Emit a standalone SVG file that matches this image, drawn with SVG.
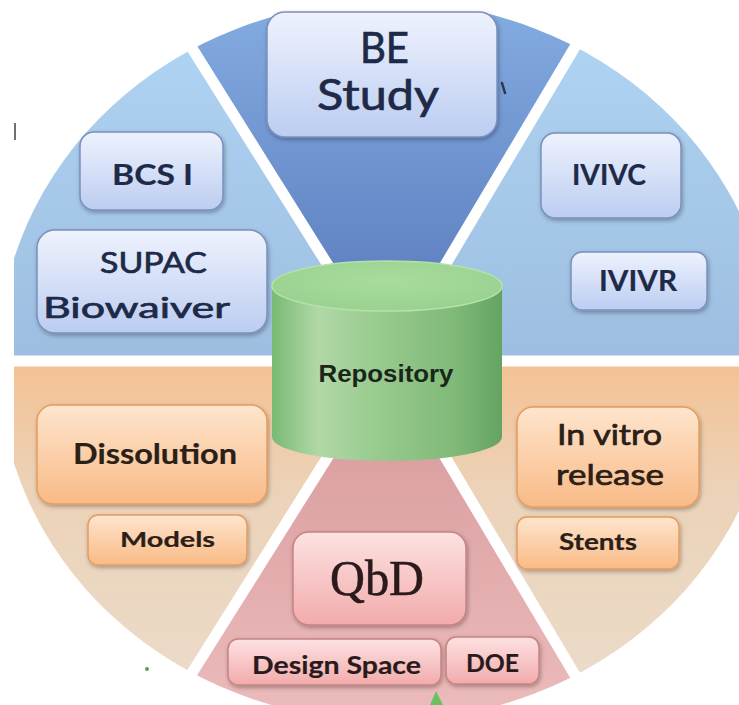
<svg xmlns="http://www.w3.org/2000/svg" width="739" height="705" viewBox="0 0 739 705">
  <defs>
    <clipPath id="frame"><rect x="14" y="12" width="725" height="693"/></clipPath>
    <clipPath id="disc"><ellipse cx="386" cy="361" rx="388" ry="360"/></clipPath>
    <linearGradient id="gTop" gradientUnits="userSpaceOnUse" x1="0" y1="12" x2="0" y2="300">
      <stop offset="0" stop-color="#82abe0"/><stop offset="1" stop-color="#5d7ebf"/>
    </linearGradient>
    <linearGradient id="gUpper" gradientUnits="userSpaceOnUse" x1="0" y1="40" x2="0" y2="355">
      <stop offset="0" stop-color="#afd3f2"/><stop offset="1" stop-color="#9dbee0"/>
    </linearGradient>
    <linearGradient id="gLower" gradientUnits="userSpaceOnUse" x1="0" y1="366" x2="0" y2="705">
      <stop offset="0" stop-color="#f4c294"/><stop offset="0.35" stop-color="#ecd2b7"/><stop offset="1" stop-color="#ebdccb"/>
    </linearGradient>
    <linearGradient id="gBottom" gradientUnits="userSpaceOnUse" x1="0" y1="366" x2="0" y2="705">
      <stop offset="0" stop-color="#d6979a"/><stop offset="1" stop-color="#ebbaba"/>
    </linearGradient>
    <linearGradient id="boxBlue" x1="0" y1="0" x2="0" y2="1">
      <stop offset="0" stop-color="#eef2fd"/><stop offset="1" stop-color="#bccdf1"/>
    </linearGradient>
    <linearGradient id="boxOrange" x1="0" y1="0" x2="0" y2="1">
      <stop offset="0" stop-color="#fee5cd"/><stop offset="1" stop-color="#f9ba86"/>
    </linearGradient>
    <linearGradient id="boxPink" x1="0" y1="0" x2="0" y2="1">
      <stop offset="0" stop-color="#fde2e2"/><stop offset="1" stop-color="#f2abab"/>
    </linearGradient>
    <linearGradient id="cylBody" x1="0" y1="0" x2="1" y2="0">
      <stop offset="0" stop-color="#78ba74"/><stop offset="0.2" stop-color="#b1d8a7"/>
      <stop offset="0.45" stop-color="#99cb8f"/><stop offset="0.8" stop-color="#7fb978"/>
      <stop offset="1" stop-color="#64a362"/>
    </linearGradient>
    <radialGradient id="cylTop" cx="0.5" cy="0.4" r="0.6">
      <stop offset="0" stop-color="#a8dc9d"/><stop offset="1" stop-color="#9ad190"/>
    </radialGradient>
    <filter id="shadow" x="-10%" y="-10%" width="125%" height="135%">
      <feDropShadow dx="1" dy="2" stdDeviation="2" flood-color="#000" flood-opacity="0.3"/>
    </filter>
    <style>
      .sep { stroke: #ffffff; stroke-width: 11; fill: none; }
      .bx { stroke-width: 1.5; filter: url(#shadow); }
      .blue { fill: url(#boxBlue); stroke: #7a90bd; }
      .orange { fill: url(#boxOrange); stroke: #e59c5e; }
      .pink { fill: url(#boxPink); stroke: #c88282; }
      .t { font-family: Lato, "Open Sans", "Liberation Sans", sans-serif; text-anchor: middle; }
      .b { font-weight: bold; }
      .tb { fill: #1e2a48; stroke: #1e2a48; stroke-width: 0.2; }
      .to { fill: #2a2018; stroke: #2a2018; stroke-width: 0.2; }
      .tp { fill: #2a1a1c; stroke: #2a1a1c; stroke-width: 0.2; }
      .t.m { stroke-width: 0.7; }
    </style>
  </defs>

  <rect width="739" height="705" fill="#ffffff"/>

  <!-- pie sectors -->
  <g id="pie" clip-path="url(#frame)">
    <g clip-path="url(#disc)">
      <polygon id="sector-top" points="388,361 -144,-489 880,-467" fill="url(#gTop)"/>
      <polygon id="sector-upper-left" points="388,361 -144,-489 -800,-489 -800,361" fill="url(#gUpper)"/>
      <polygon id="sector-upper-right" points="388,361 880,-467 1500,-467 1500,361" fill="url(#gUpper)"/>
      <polygon id="sector-lower-left" points="388,361 -800,361 -800,1208 -144,1208" fill="url(#gLower)"/>
      <polygon id="sector-lower-right" points="388,361 1500,361 1500,1208 893,1208" fill="url(#gLower)"/>
      <polygon id="sector-bottom" points="388,361 -144,1208 893,1208" fill="url(#gBottom)"/>
    </g>
  </g>

  <!-- white spokes between sectors -->
  <g id="connectors">
    <line class="sep" x1="0" y1="361" x2="739" y2="361"/>
    <line class="sep" x1="388" y1="361" x2="170" y2="13"/>
    <line class="sep" x1="388" y1="361" x2="591" y2="20"/>
    <line class="sep" x1="388" y1="361" x2="170" y2="708"/>
    <line class="sep" x1="388" y1="361" x2="594" y2="707"/>
  </g>

  <!-- small stray marks -->
  <g id="marks">
    <path d="M15,123 L15,140" stroke="#6b6f78" stroke-width="2"/>
    <path d="M502,83 L505,93" stroke="#2d3550" stroke-width="2.5" stroke-linecap="round"/>
    <circle cx="147" cy="669" r="2" fill="#5f9d55"/>
    <polygon points="436,691 430,705 443,705" fill="#6cc060"/>
  </g>

  <g id="be-study">
    <rect class="bx blue" x="267" y="12" width="230" height="125" rx="18"/>
    <text class="t tb m" x="384.5" y="63" font-size="42" textLength="49" lengthAdjust="spacingAndGlyphs">BE</text>
    <text class="t tb m" x="378" y="110" font-size="42" textLength="122" lengthAdjust="spacingAndGlyphs">Study</text>
  </g>

  <g id="bcs-i">
    <rect class="bx blue" x="80" y="132" width="143" height="78" rx="14"/>
    <text class="t b tb" x="152.5" y="185" font-size="28" textLength="81" lengthAdjust="spacingAndGlyphs">BCS I</text>
  </g>

  <g id="supac-biowaiver">
    <rect class="bx blue" x="37" y="230" width="230" height="103" rx="18"/>
    <text class="t tb m" x="153.5" y="273" font-size="29" textLength="107" lengthAdjust="spacingAndGlyphs">SUPAC</text>
    <text class="t tb m" x="136.5" y="318" font-size="29" textLength="187" lengthAdjust="spacingAndGlyphs">Biowaiver</text>
  </g>

  <g id="ivivc">
    <rect class="bx blue" x="541" y="133" width="140" height="85" rx="14"/>
    <text class="t b tb" x="609" y="185" font-size="28" textLength="74" lengthAdjust="spacingAndGlyphs">IVIVC</text>
  </g>

  <g id="ivivr">
    <rect class="bx blue" x="571" y="252" width="136" height="58" rx="11"/>
    <text class="t b tb" x="638" y="291" font-size="28" textLength="78" lengthAdjust="spacingAndGlyphs">IVIVR</text>
  </g>

  <g id="dissolution">
    <rect class="bx orange" x="37" y="405" width="230" height="99" rx="16"/>
    <text class="t b to" x="155" y="464" font-size="28" textLength="164" lengthAdjust="spacingAndGlyphs">Dissolution</text>
  </g>

  <g id="models">
    <rect class="bx orange" x="88" y="515" width="159" height="50" rx="10"/>
    <text class="t b to" x="167.5" y="547" font-size="21" textLength="95" lengthAdjust="spacingAndGlyphs">Models</text>
  </g>

  <g id="in-vitro-release">
    <rect class="bx orange" x="517" y="407" width="182" height="100" rx="16"/>
    <text class="t to m" x="609.5" y="445" font-size="29" textLength="105" lengthAdjust="spacingAndGlyphs">In vitro</text>
    <text class="t to m" x="610" y="485" font-size="29" textLength="108" lengthAdjust="spacingAndGlyphs">release</text>
  </g>

  <g id="stents">
    <rect class="bx orange" x="517" y="517" width="162" height="52" rx="10"/>
    <text class="t b to" x="598" y="550" font-size="22" textLength="78" lengthAdjust="spacingAndGlyphs">Stents</text>
  </g>

  <g id="qbd">
    <rect class="bx pink" x="293" y="532" width="173" height="93" rx="16"/>
    <text x="377" y="595" font-family="'Liberation Serif', 'DejaVu Serif', serif" font-size="50" text-anchor="middle" fill="#2a1a1c" stroke="#2a1a1c" stroke-width="0.6" textLength="94" lengthAdjust="spacingAndGlyphs">QbD</text>
  </g>

  <g id="design-space">
    <rect class="bx pink" x="228" y="639" width="213" height="46" rx="10"/>
    <text class="t b tp" x="336.5" y="674" font-size="24" textLength="169" lengthAdjust="spacingAndGlyphs">Design Space</text>
  </g>

  <g id="doe">
    <rect class="bx pink" x="446" y="637" width="93" height="47" rx="10"/>
    <text class="t b tp" x="492.5" y="672" font-size="24" textLength="53" lengthAdjust="spacingAndGlyphs">DOE</text>
  </g>

  <g id="repository">
    <path d="M272,286 L272,437 A115,24 0 0 0 502,437 L502,286 Z" fill="url(#cylBody)"/>
    <ellipse cx="387" cy="286" rx="115" ry="25" fill="url(#cylTop)" stroke="#b4e2a8" stroke-width="1.5"/>
    <text x="386" y="382" font-family="'Liberation Sans', Arial, sans-serif" font-weight="bold" font-size="24" text-anchor="middle" fill="#1a261a" textLength="135" lengthAdjust="spacingAndGlyphs">Repository</text>
  </g>
</svg>
